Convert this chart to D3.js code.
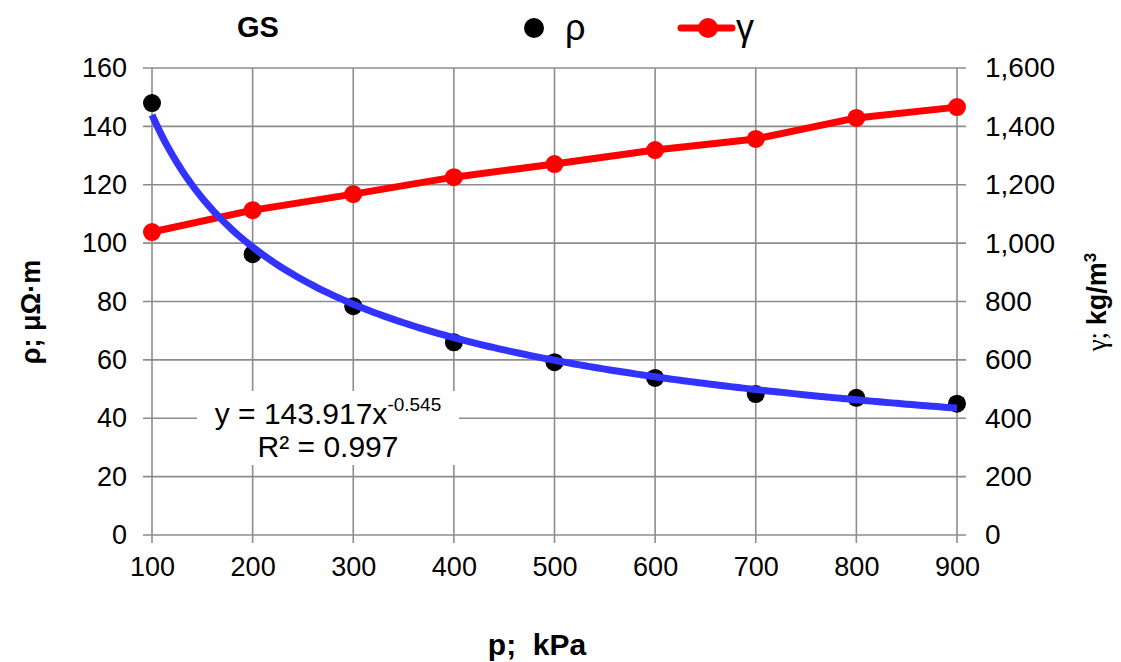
<!DOCTYPE html>
<html>
<head>
<meta charset="utf-8">
<script src="https://cdn.jsdelivr.net/npm/d3@7"></script>
<style>
    body { margin: 0; background: #fff; }
    text { font-family: "Liberation Sans", Arial, sans-serif; fill: #000; }
</style>
</head>
<body>
<svg width="1121" height="662"></svg>
<script>
// data
var pressure = [100, 200, 300, 400, 500, 600, 700, 800, 900]
var rho = [148, 96.2, 78.4, 66, 59.2, 53.8, 48.3, 47, 45]
var gamma = [1038, 1113, 1168, 1226, 1271, 1319, 1357, 1429, 1466]
var leftTicks = [0, 20, 40, 60, 80, 100, 120, 140, 160]
var rightTicks = [0, 200, 400, 600, 800, 1000, 1200, 1400, 1600]
// trendline shown on chart: y = 143.917 x^-0.545 (x = point index 1..9)
var fitA = 143.917, fitB = -0.545

var svg = d3.select("svg")
var plotL = 152, plotR = 957, plotT = 68, plotB = 535

var x = d3.scaleLinear().domain([100, 900]).range([plotL, plotR])
var yL = d3.scaleLinear().domain([0, 160]).range([plotB, plotT])
var yR = d3.scaleLinear().domain([0, 1600]).range([plotB, plotT])

var grid = "#8c8c8c"

// horizontal gridlines (with small tick stubs both sides)
svg.append("g")
    .selectAll("line")
    .data(leftTicks).enter()
    .append("line")
    .attr("x1", plotL - 9)
    .attr("x2", plotR + 9)
    .attr("y1", function (d) { return yL(d) })
    .attr("y2", function (d) { return yL(d) })
    .attr("stroke", grid)
    .attr("stroke-width", 1.6)

// vertical gridlines
svg.append("g")
    .selectAll("line")
    .data(pressure).enter()
    .append("line")
    .attr("x1", function (d) { return x(d) })
    .attr("x2", function (d) { return x(d) })
    .attr("y1", plotT)
    .attr("y2", plotB + 8)
    .attr("stroke", grid)
    .attr("stroke-width", 1.6)

// axes labels via d3 axes (domain + ticks hidden)
var axL = svg.append("g")
    .attr("transform", "translate(" + (plotL - 25) + ",0)")
    .call(d3.axisLeft(yL).tickValues(leftTicks).tickSize(0))
var axR = svg.append("g")
    .attr("transform", "translate(" + (plotR + 28) + ",0)")
    .call(d3.axisRight(yR).tickValues(rightTicks).tickSize(0).tickFormat(d3.format(",")))
var axB = svg.append("g")
    .attr("transform", "translate(0," + (plotB + 22) + ")")
    .call(d3.axisBottom(x).tickValues(pressure).tickSize(0))

;[axL, axR, axB].forEach(function (a) {
    a.select(".domain").remove()
    a.selectAll("text")
        .attr("font-size", "27px")
        .attr("font-family", "Liberation Sans, Arial, sans-serif")
        .attr("fill", "#000")
})
axL.selectAll("text").attr("x", 0)
axR.selectAll("text").attr("x", 0).attr("font-size", "28px")
axB.selectAll("text").attr("y", 0).attr("dy", "0.71em")

// red gamma line
var gLine = d3.line()
    .x(function (d, i) { return x(pressure[i]) })
    .y(function (d) { return yR(d) })

svg.append("path")
    .datum(gamma)
    .attr("d", gLine)
    .attr("fill", "none")
    .attr("stroke", "#ff0000")
    .attr("stroke-width", 7)
    .attr("stroke-linejoin", "round")

svg.append("g")
    .selectAll("circle")
    .data(gamma).enter()
    .append("circle")
    .attr("cx", function (d, i) { return x(pressure[i]) })
    .attr("cy", function (d) { return yR(d) })
    .attr("r", 9)
    .attr("fill", "#ff0000")

// rho markers
svg.append("g")
    .selectAll("circle")
    .data(rho).enter()
    .append("circle")
    .attr("cx", function (d, i) { return x(pressure[i]) })
    .attr("cy", function (d) { return yL(d) })
    .attr("r", 9)
    .attr("fill", "#000")

// power trendline
var fitPts = d3.range(0, 161).map(function (k) {
    var idx = 1 + k * 8 / 160
    return { p: 100 * idx, v: fitA * Math.pow(idx, fitB) }
})
svg.append("path")
    .datum(fitPts)
    .attr("d", d3.line()
        .x(function (d) { return x(d.p) })
        .y(function (d) { return yL(d.v) })
        .curve(d3.curveBasis))
    .attr("fill", "none")
    .attr("stroke", "#3333ff")
    .attr("stroke-width", 7)

// equation label
svg.append("rect")
    .attr("x", 197).attr("y", 391)
    .attr("width", 262).attr("height", 74)
    .attr("fill", "#fff")
var eq = svg.append("text")
    .attr("x", 328).attr("y", 424)
    .attr("text-anchor", "middle")
    .attr("font-size", "30px")
eq.append("tspan").text("y = 143.917x")
eq.append("tspan").text("-0.545").attr("font-size", "19px").attr("dy", -13)
svg.append("text")
    .attr("x", 328).attr("y", 457)
    .attr("text-anchor", "middle")
    .attr("font-size", "30px")
    .text("R² = 0.997")

// title + legend
svg.append("text")
    .attr("x", 237).attr("y", 37)
    .attr("font-size", "29px")
    .attr("font-weight", "bold")
    .text("GS")

svg.append("circle").attr("cx", 534).attr("cy", 28).attr("r", 10).attr("fill", "#000")
svg.append("text")
    .attr("x", 565).attr("y", 40)
    .attr("font-family", "Liberation Serif, serif")
    .attr("font-size", "36px")
    .text("ρ")

svg.append("line")
    .attr("x1", 681).attr("x2", 732).attr("y1", 28).attr("y2", 28)
    .attr("stroke", "#ff0000").attr("stroke-width", 7).attr("stroke-linecap", "round")
svg.append("circle").attr("cx", 708).attr("cy", 28).attr("r", 10).attr("fill", "#ff0000")
svg.append("text")
    .attr("x", 736).attr("y", 40)
    .attr("font-family", "Liberation Serif, serif")
    .attr("font-size", "36px")
    .text("γ")

// axis titles
svg.append("text")
    .attr("transform", "translate(40,312) rotate(-90)")
    .attr("text-anchor", "middle")
    .attr("font-size", "27px")
    .attr("font-weight", "bold")
    .text("ρ; μΩ·m")

var rt = svg.append("text")
    .attr("transform", "translate(1106,302) rotate(-90)")
    .attr("text-anchor", "middle")
    .attr("font-size", "27px")
rt.append("tspan").text("γ; ").attr("font-family", "Liberation Serif, serif")
rt.append("tspan").text("kg/m").attr("font-weight", "bold")
rt.append("tspan").text("3").attr("font-weight", "bold").attr("font-size", "17px").attr("dy", -10)

svg.append("text")
    .attr("x", 537).attr("y", 655)
    .attr("text-anchor", "middle")
    .attr("font-size", "30px")
    .attr("font-weight", "bold")
    .style("white-space", "pre")
    .text("p;  kPa")
</script>
</body>
</html>
